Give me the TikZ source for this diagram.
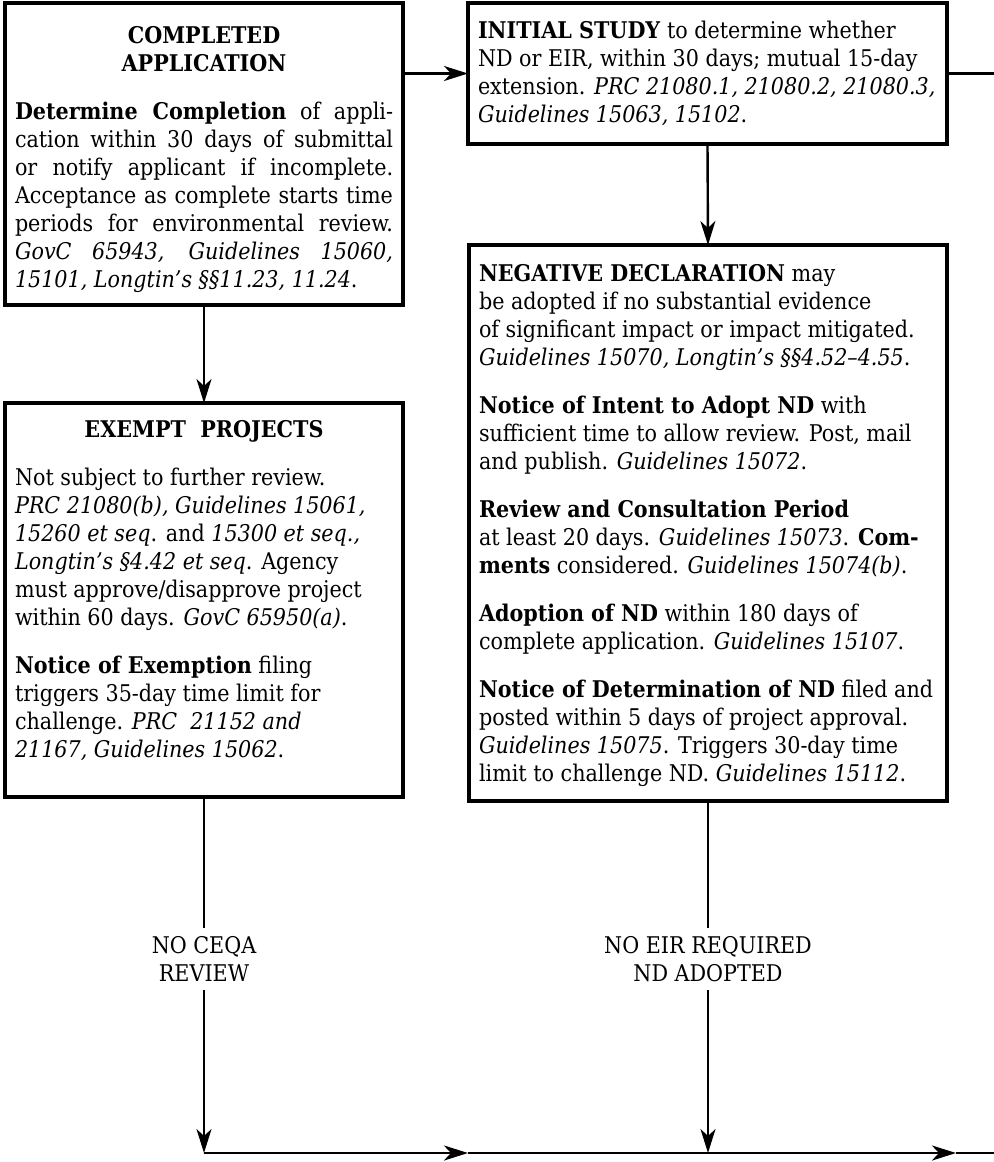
\documentclass[tikz,border=0pt]{standalone}
\usepackage{fontspec}
\setmainfont{DejaVu Serif Condensed}
\usetikzlibrary{arrows.meta}
\newcommand{\boxbody}[3]{\parbox[c][#1][t]{#2}{\setlength{\parskip}{10pt}#3}}
\tikzset{
  panel/.style={draw, line width=1.6pt, anchor=north west, outer sep=0pt, inner xsep=5pt, inner ysep=9pt},
  flow/.style={line width=1.2pt, -{Stealth[length=12pt,width=7.5pt,inset=3.5pt]}},
  plain/.style={line width=1.2pt},
  tag/.style={fill=white, align=center, inner sep=4pt}
}
\begin{document}
\begin{tikzpicture}[x=0.5pt, y=-0.5pt, font=\fontsize{11.5}{14}\selectfont]
\useasboundingbox (0,0) rectangle (994,1162);
\node[panel, inner ysep=11.5pt] (app) at (5,3) {\boxbody{128pt}{189pt}{%
{\centering\textbf{COMPLETED}\\\textbf{APPLICATION}\par}
\textbf{Determine Completion} of appli-\linebreak
cation within 30 days of submittal\linebreak
or notify applicant if incomplete.\linebreak
Acceptance as complete starts time\linebreak
periods for environmental review.\linebreak
\textit{GovC 65943, Guidelines 15060,}\linebreak
\textit{15101, Longtin's \S\S11.23, 11.24}.}};
\node[panel] (study) at (468,3) {\boxbody{52.5pt}{229.5pt}{\raggedright
\textbf{INITIAL STUDY} to determine whether\\
ND or EIR, within 30 days; mutual 15-day\\
extension. \textit{PRC 21080.1, 21080.2, 21080.3,}\\
\textit{Guidelines 15063, 15102}.}};
\node[panel, inner ysep=9.5pt] (nd) at (469,245) {\boxbody{259pt}{229pt}{\raggedright
\textbf{NEGATIVE DECLARATION} may\\
be adopted if no substantial evidence\\
of significant impact or impact mitigated.\\
\textit{Guidelines 15070, Longtin's \S\S4.52--4.55}.\par
\textbf{Notice of Intent to Adopt ND} with\\
sufficient time to allow review. Post, mail\\
and publish. \textit{Guidelines 15072}.\par
\textbf{Review and Consultation Period}\\
at least 20 days. \textit{Guidelines 15073}. \textbf{Com-}\\
\textbf{ments} considered. \textit{Guidelines 15074(b)}.\par
\textbf{Adoption of ND} within 180 days of\\
complete application. \textit{Guidelines 15107}.\par
\textbf{Notice of Determination of ND} filed and\\
posted within 5 days of project approval.\\
\textit{Guidelines 15075}. Triggers 30-day time\\
limit to challenge ND. \textit{Guidelines 15112}.}};
\node[panel, inner ysep=8.5pt] (exempt) at (5,403) {\boxbody{180pt}{189pt}{\raggedright
{\centering\textbf{EXEMPT\ \ PROJECTS}\par}
Not subject to further review.\\
\textit{PRC 21080(b), Guidelines 15061,}\\
\textit{15260 et seq}. and \textit{15300 et seq.,}\\
\textit{Longtin's \S4.42 et seq}. Agency\\
must approve/disapprove project\\
within 60 days. \textit{GovC 65950(a)}.\par
\textbf{Notice of Exemption} filing\\
triggers 35-day time limit for\\
challenge. \textit{PRC\ \ 21152 and}\\
\textit{21167, Guidelines 15062}.}};
\node[tag] (noceqa) at (204,959) {NO CEQA\\REVIEW};
\node[tag] (noeir) at (708,959) {NO EIR REQUIRED\\ND ADOPTED};
\coordinate (rim) at (994,0);
\coordinate (base) at (994,1153);
\coordinate (j1) at (exempt.south |- base);
\coordinate (j2) at (nd.south |- base);
\coordinate (m1) at (468,1153);
\coordinate (m2) at (956,1153);
\draw[flow] (app.south) -- (exempt.north);
\draw[flow] (app.east |- study.west) -- (study.west);
\draw[plain] (study.east) -- (study.east -| rim);
\draw[flow] (study.south) -- (nd.north);
\draw[plain] (exempt.south) -- (noceqa.north);
\draw[flow] (noceqa.south) -- (j1);
\draw[plain] (nd.south) -- (noeir.north);
\draw[flow] (noeir.south) -- (j2);
\draw[flow, line width=1.4pt] (j1) -- (m1);
\draw[flow, line width=1.4pt] (m1) -- (m2);
\draw[plain, line width=1.4pt] (m2) -- (base);
\end{tikzpicture}
\end{document}
